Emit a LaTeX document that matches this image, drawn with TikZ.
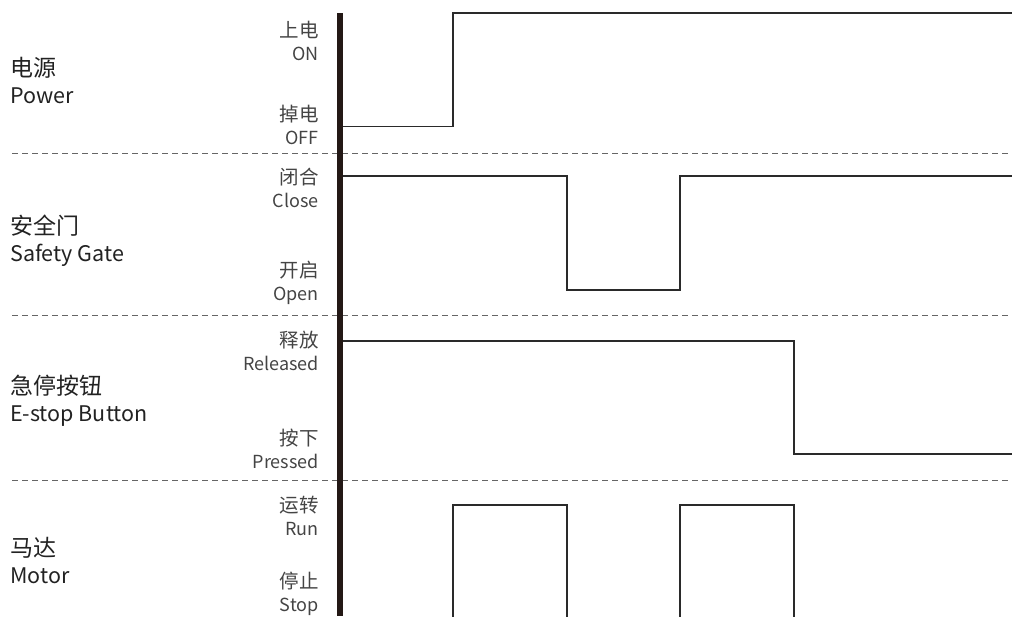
\documentclass[tikz,border=0pt]{standalone}
\usepackage{fontspec}
\setmainfont{Noto Sans CJK SC}
\definecolor{sig}{HTML}{2A2A2A}
\definecolor{txt}{HTML}{222222}
\definecolor{lbl}{HTML}{444444}
\definecolor{dsh}{HTML}{666666}
\definecolor{bar}{HTML}{231815}
\newcommand{\cjkbig}{\fontsize{23}{27}\selectfont}
\newcommand{\cjksm}{\fontsize{19.5}{23}\selectfont}
\begin{document}
\begin{tikzpicture}[x=1pt,y=-1pt,
  grp/.style={anchor=west,align=left,font=\fontsize{21.5}{27}\selectfont,text=txt,inner sep=0pt},
  lv/.style={anchor=east,align=right,font=\fontsize{18}{23}\selectfont,text=lbl,inner sep=0pt},
  sep/.style={draw=dsh,line width=1pt,dash pattern=on 6pt off 4pt},
  wave/.style={draw=sig,line width=1.3pt,line join=miter}]
\useasboundingbox (0,0) rectangle (1012,616);
% group labels
\node[grp] (p) at (10,81) {{\cjkbig 电源}\\Power};
\node[grp] (g) at (10,241) {{\cjkbig 安全门}\\Safety Gate};
\node[grp] (e) at (10,401) {{\cjkbig 急停按钮}\\E-stop Button};
\node[grp] (m) at (10,561) {{\cjkbig 马达}\\Motor};
% level labels
\node[lv] (on) at (319,41) {{\cjksm 上电}\\ON};
\node[lv] (off) at (319,125) {{\cjksm 掉电}\\OFF};
\node[lv] (cl) at (319,188) {{\cjksm 闭合}\\Close};
\node[lv] (op) at (319,283) {{\cjksm 开启}\\Open};
\node[lv] (re) at (319,351) {{\cjksm 释放}\\Released};
\node[lv] (pr) at (319,449) {{\cjksm 按下}\\Pressed};
\node[lv] (ru) at (319,516) {{\cjksm 运转}\\Run};
\node[lv] (st) at (319,594) {{\cjksm 停止}\\Stop};
% separators
\coordinate (s1a) at (12,153); \coordinate (s1b) at (1012,153);
\coordinate (s2a) at (12,315); \coordinate (s2b) at (1012,315);
\coordinate (s3a) at (12,480); \coordinate (s3b) at (1012,480);
\draw[sep] (s1a) -- (s1b);
\draw[sep] (s2a) -- (s2b);
\draw[sep] (s3a) -- (s3b);
% waveforms
\draw[wave] (343,126.5) -- (453,126.5) -- (453,13) -- (1012,13);
\draw[wave] (343,176) -- (567,176) -- (567,290) -- (680,290) -- (680,176) -- (1012,176);
\draw[wave] (343,341) -- (794,341) -- (794,454) -- (1012,454);
\draw[wave] (453,617) -- (453,505) -- (567,505) -- (567,617);
\draw[wave] (680,617) -- (680,505) -- (794,505) -- (794,617);
% axis bar
\coordinate (bt) at (340,13); \coordinate (bb) at (340,616);
\draw[draw=bar,line width=6pt] (bt) -- (bb);
\end{tikzpicture}
\end{document}
